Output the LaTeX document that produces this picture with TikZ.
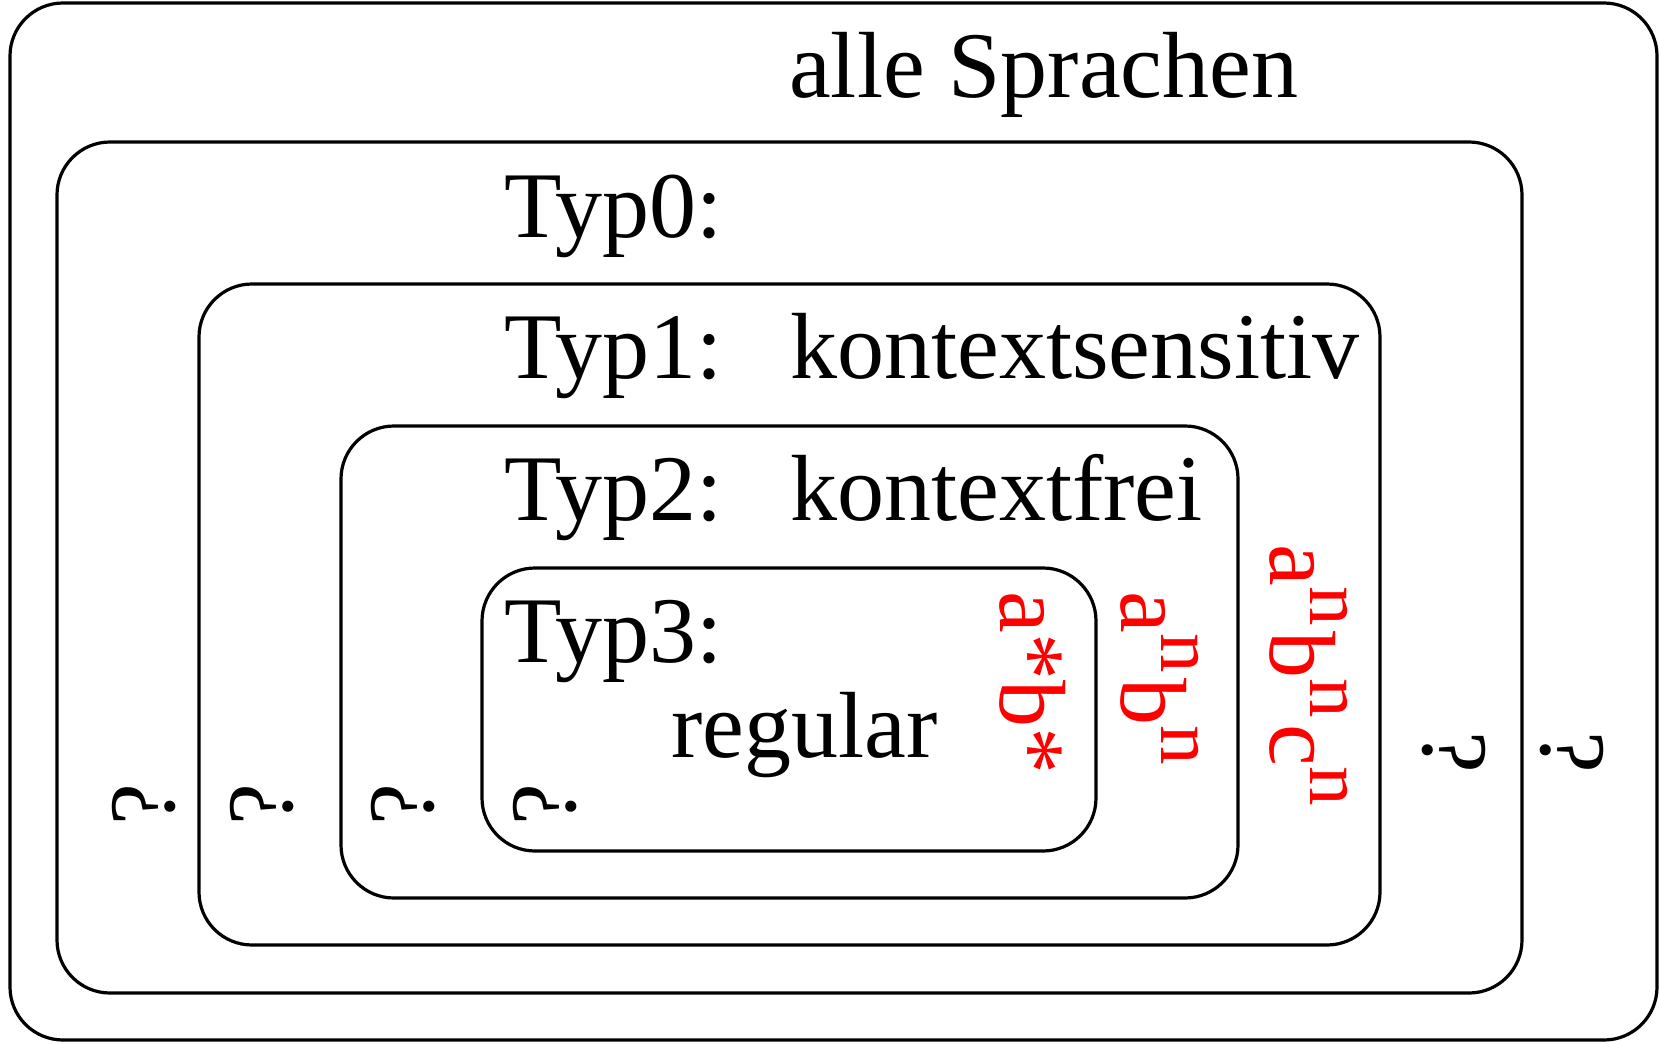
\documentclass[tikz,border=0pt]{standalone}
\usepackage{fontspec}
\setmainfont{Liberation Serif}
\newcommand\hochn{\raisebox{40pt}{\fontsize{79}{79}\selectfont n}\kern6pt}
\begin{document}
\begin{tikzpicture}[x=1pt,y=-1pt,
  box/.style={draw, line width=3.2pt, rounded corners=53pt},
  lbl/.style={anchor=base west, inner sep=0pt, font=\fontsize{94}{100}\selectfont},
  redlbl/.style={lbl, text=red, rotate=-90},
  qm/.style={anchor=center, inner sep=0pt, font=\fontsize{94}{100}\selectfont}]
\useasboundingbox (0,0) rectangle (1660,1044);
% nested boxes
\draw[box] (10,3) rectangle (1657,1040);
\draw[box] (57,142) rectangle (1522,993);
\draw[box] (199,284) rectangle (1380,945);
\draw[box] (341,426) rectangle (1238,898);
\draw[box] (482,568) rectangle (1096,851);
% labels
\node[lbl] (alle) at (789,97) {alle Sprachen};
\node[lbl] (t0) at (504,237) {Typ0:};
\node[lbl] (t1) at (504,378) {Typ1:};
\node[lbl] (k1) at (790,378) {kontextsensitiv};
\node[lbl] (t2) at (504,520) {Typ2:};
\node[lbl] (k2) at (790,520) {kontextfrei};
\node[lbl] (t3) at (504,662) {Typ3:};
\node[lbl] (reg) at (671,757) {regular};
% red examples
\node[redlbl] (r3) at (1000,591.5) {a*b*};
\node[redlbl] (r2) at (1121.5,591.5) {a\hochn b\hochn};
\node[redlbl] (r1) at (1270,544.5) {a\hochn b\hochn c\hochn};
% question marks
\node[qm, rotate=90] (q0) at (144,805) {?};
\node[qm, rotate=90] (q1) at (262,805) {?};
\node[qm, rotate=90] (q2) at (403,805) {?};
\node[qm, rotate=90] (q3) at (545,805) {?};
\node[qm, rotate=-90] (q4) at (1454,752) {?};
\node[qm, rotate=-90] (q5) at (1572,752) {?};
\end{tikzpicture}
\end{document}
